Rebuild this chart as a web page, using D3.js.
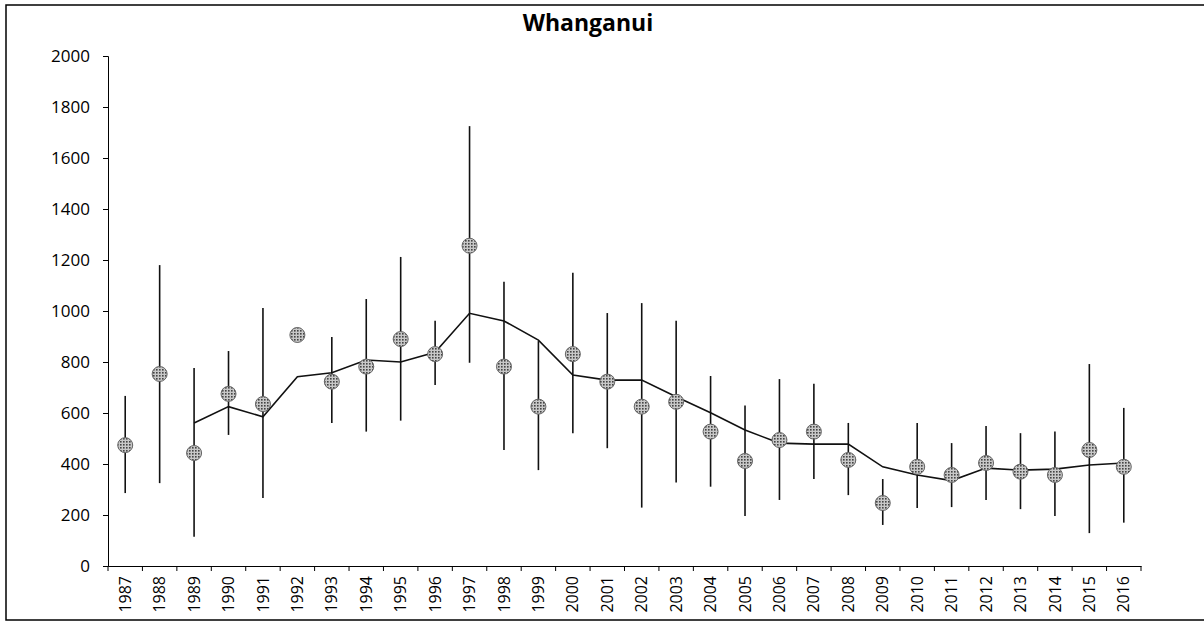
<!DOCTYPE html>
<html><head><meta charset="utf-8">
<script src="https://cdn.jsdelivr.net/npm/d3@7"></script>
<style>body{margin:0;background:#fff}svg{display:block}text{font-family:"Open Sans",sans-serif}</style>
</head><body><svg id="c" width="1204" height="623"></svg>
<script>
const years = [1987,1988,1989,1990,1991,1992,1993,1994,1995,1996,1997,1998,1999,2000,2001,2002,2003,2004,2005,2006,2007,2008,2009,2010,2011,2012,2013,2014,2015,2016];
const pointValues = [474,753,443,675,635,906,723,782,890,831,1256,782,625,831,723,625,644,527,412,494,527,416,247,389,357,404,370,357,455,389];
const errLow  = [286,325,115,514,267,null,561,527,570,710,797,455,376,521,462,229,327,311,196,259,341,278,161,227,231,259,223,196,129,170];
const errHigh = [667,1180,776,843,1012,null,898,1047,1212,962,1725,1115,882,1150,992,1031,962,745,629,733,715,561,341,561,482,549,521,527,792,620];
const trendValues = [null,null,561,625,585,742,758,808,800,838,991,961,886,749,729,729,664,601,533,482,478,478,389,357,335,384,376,380,396,404];
const yTicks = [0,200,400,600,800,1000,1200,1400,1600,1800,2000];

(function(){
const svg = d3.select("#c");
const mL = 108, mR = 1141, mT = 56, mB = 566;
const x = d3.scaleBand().domain(years).range([mL, mR]).padding(0);
const y = d3.scaleLinear().domain([0, 2000]).range([mB, mT]);
const cx = d => x(d) + x.bandwidth()/2;

svg.append("rect").attr("x",6).attr("y",5).attr("width",1240).attr("height",615)
  .attr("fill","none").attr("stroke","#000").attr("stroke-width",1.5);

svg.append("text").attr("x",588).attr("y",31).attr("text-anchor","middle")
  .attr("font-size",23).attr("font-weight","bold").text("Whanganui");

const ya = svg.append("g").attr("transform",`translate(${mL},0)`)
  .call(d3.axisLeft(y).tickValues(yTicks).tickSize(5).tickPadding(13).tickFormat(d3.format("d")));
ya.select(".domain").attr("stroke","#000");
ya.selectAll("text").attr("font-size",17).attr("fill","#000");

const xa = svg.append("g").attr("transform",`translate(0,${mB})`)
  .call(d3.axisBottom(x).tickSize(0).tickFormat(d3.format("d")));
xa.select(".domain").attr("stroke","#000");
xa.selectAll("text").attr("font-size",16).attr("fill","#000")
  .attr("transform","rotate(-90)").attr("text-anchor","end")
  .attr("x",-10).attr("y",0).attr("dy","0.35em");
svg.append("g").selectAll("line").data(years.concat(["end"])).join("line")
  .attr("x1",(d,i)=> mL + i*x.bandwidth()).attr("x2",(d,i)=> mL + i*x.bandwidth())
  .attr("y1",mB).attr("y2",mB+5).attr("stroke","#000");

svg.append("g").selectAll("line").data(years.map((d,i)=>({d,lo:errLow[i],hi:errHigh[i]})).filter(e=>e.lo!=null))
  .join("line").attr("x1",e=>cx(e.d)).attr("x2",e=>cx(e.d))
  .attr("y1",e=>y(e.lo)).attr("y2",e=>y(e.hi)).attr("stroke","#111").attr("stroke-width",1.6);

const line = d3.line().defined(d=>d.v!=null).x(d=>cx(d.d)).y(d=>y(d.v));
svg.append("path").datum(years.map((d,i)=>({d,v:trendValues[i]})))
  .attr("d",line).attr("fill","none").attr("stroke","#111").attr("stroke-width",1.6);

const defs = svg.append("defs");
const pat = defs.append("pattern").attr("id","hatch").attr("patternUnits","userSpaceOnUse")
  .attr("width",3).attr("height",3);
pat.append("rect").attr("width",3).attr("height",3).attr("fill","#c8c8c8");
pat.append("rect").attr("width",1.6).attr("height",1.6).attr("fill","#444");
svg.append("g").selectAll("circle").data(years.map((d,i)=>({d,v:pointValues[i]})))
  .join("circle").attr("cx",e=>cx(e.d)).attr("cy",e=>y(e.v)).attr("r",7.5)
  .attr("fill","url(#hatch)").attr("stroke","#666").attr("stroke-width",1);
})();
</script></body></html>
